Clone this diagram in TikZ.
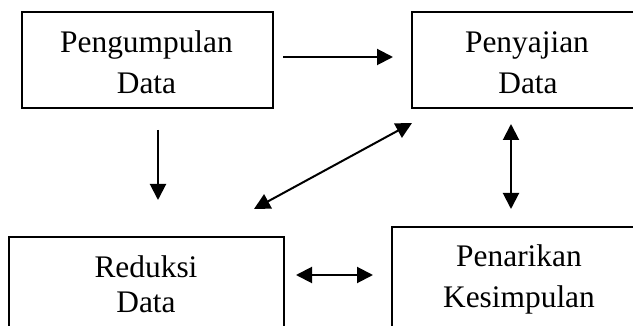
\documentclass[tikz,border=0pt]{standalone}
\usepackage{fontspec}
\setmainfont{Liberation Serif}
\usetikzlibrary{arrows.meta}
\begin{document}
\begin{tikzpicture}[x=1pt,y=-1pt,
  box/.style={draw, line width=1.6pt, inner sep=0pt, rectangle},
  lbl/.style={anchor=base, inner sep=0pt, font=\fontsize{31.4}{40}\selectfont},
  arr/.style={line width=2pt, -{Triangle[length=16pt,width=16pt]}},
  darr/.style={line width=2pt, {Triangle[length=16pt,width=16pt]}-{Triangle[length=16pt,width=16pt]}}]
\useasboundingbox (0,0) rectangle (633,326);
\clip (0,0) rectangle (633,326);
\fill[white] (0,0) rectangle (633,326);
% boxes
\node[box, minimum width=251pt, minimum height=96pt] (A) at (147.5,60) {};
\node[box, minimum width=231pt, minimum height=96pt] (B) at (527.5,60) {};
\node[box, minimum width=275pt, minimum height=110pt] (C) at (146.5,292) {};
\node[box, minimum width=254pt, minimum height=120pt] (D) at (519,287) {};
% labels
\node[lbl] (A1) at (146.5,53) {Pengumpulan};
\node[lbl] (A2) at (146.5,94) {Data};
\node[lbl] (B1) at (527,53) {Penyajian};
\node[lbl] (B2) at (528,94) {Data};
\node[lbl] (C1) at (146,278) {Reduksi};
\node[lbl] (C2) at (146,313) {Data};
\node[lbl] (D1) at (519,267) {Penarikan};
\node[lbl] (D2) at (519,308) {Kesimpulan};
% connector end points
\coordinate (ab1) at (283,57);
\coordinate (ab2) at (393,57);
\coordinate (ac1) at (158,130);
\coordinate (ac2) at (158,200);
\coordinate (bc1) at (412,123);
\coordinate (bc2) at (254,209);
\coordinate (bd1) at (511,124);
\coordinate (bd2) at (511,209);
\coordinate (cd1) at (296,275);
\coordinate (cd2) at (373,275);
% connectors
\draw[arr] (ab1) -- (ab2);
\draw[arr] (ac1) -- (ac2);
\draw[darr] (bc1) -- (bc2);
\draw[darr] (bd1) -- (bd2);
\draw[darr] (cd1) -- (cd2);
\end{tikzpicture}
\end{document}
